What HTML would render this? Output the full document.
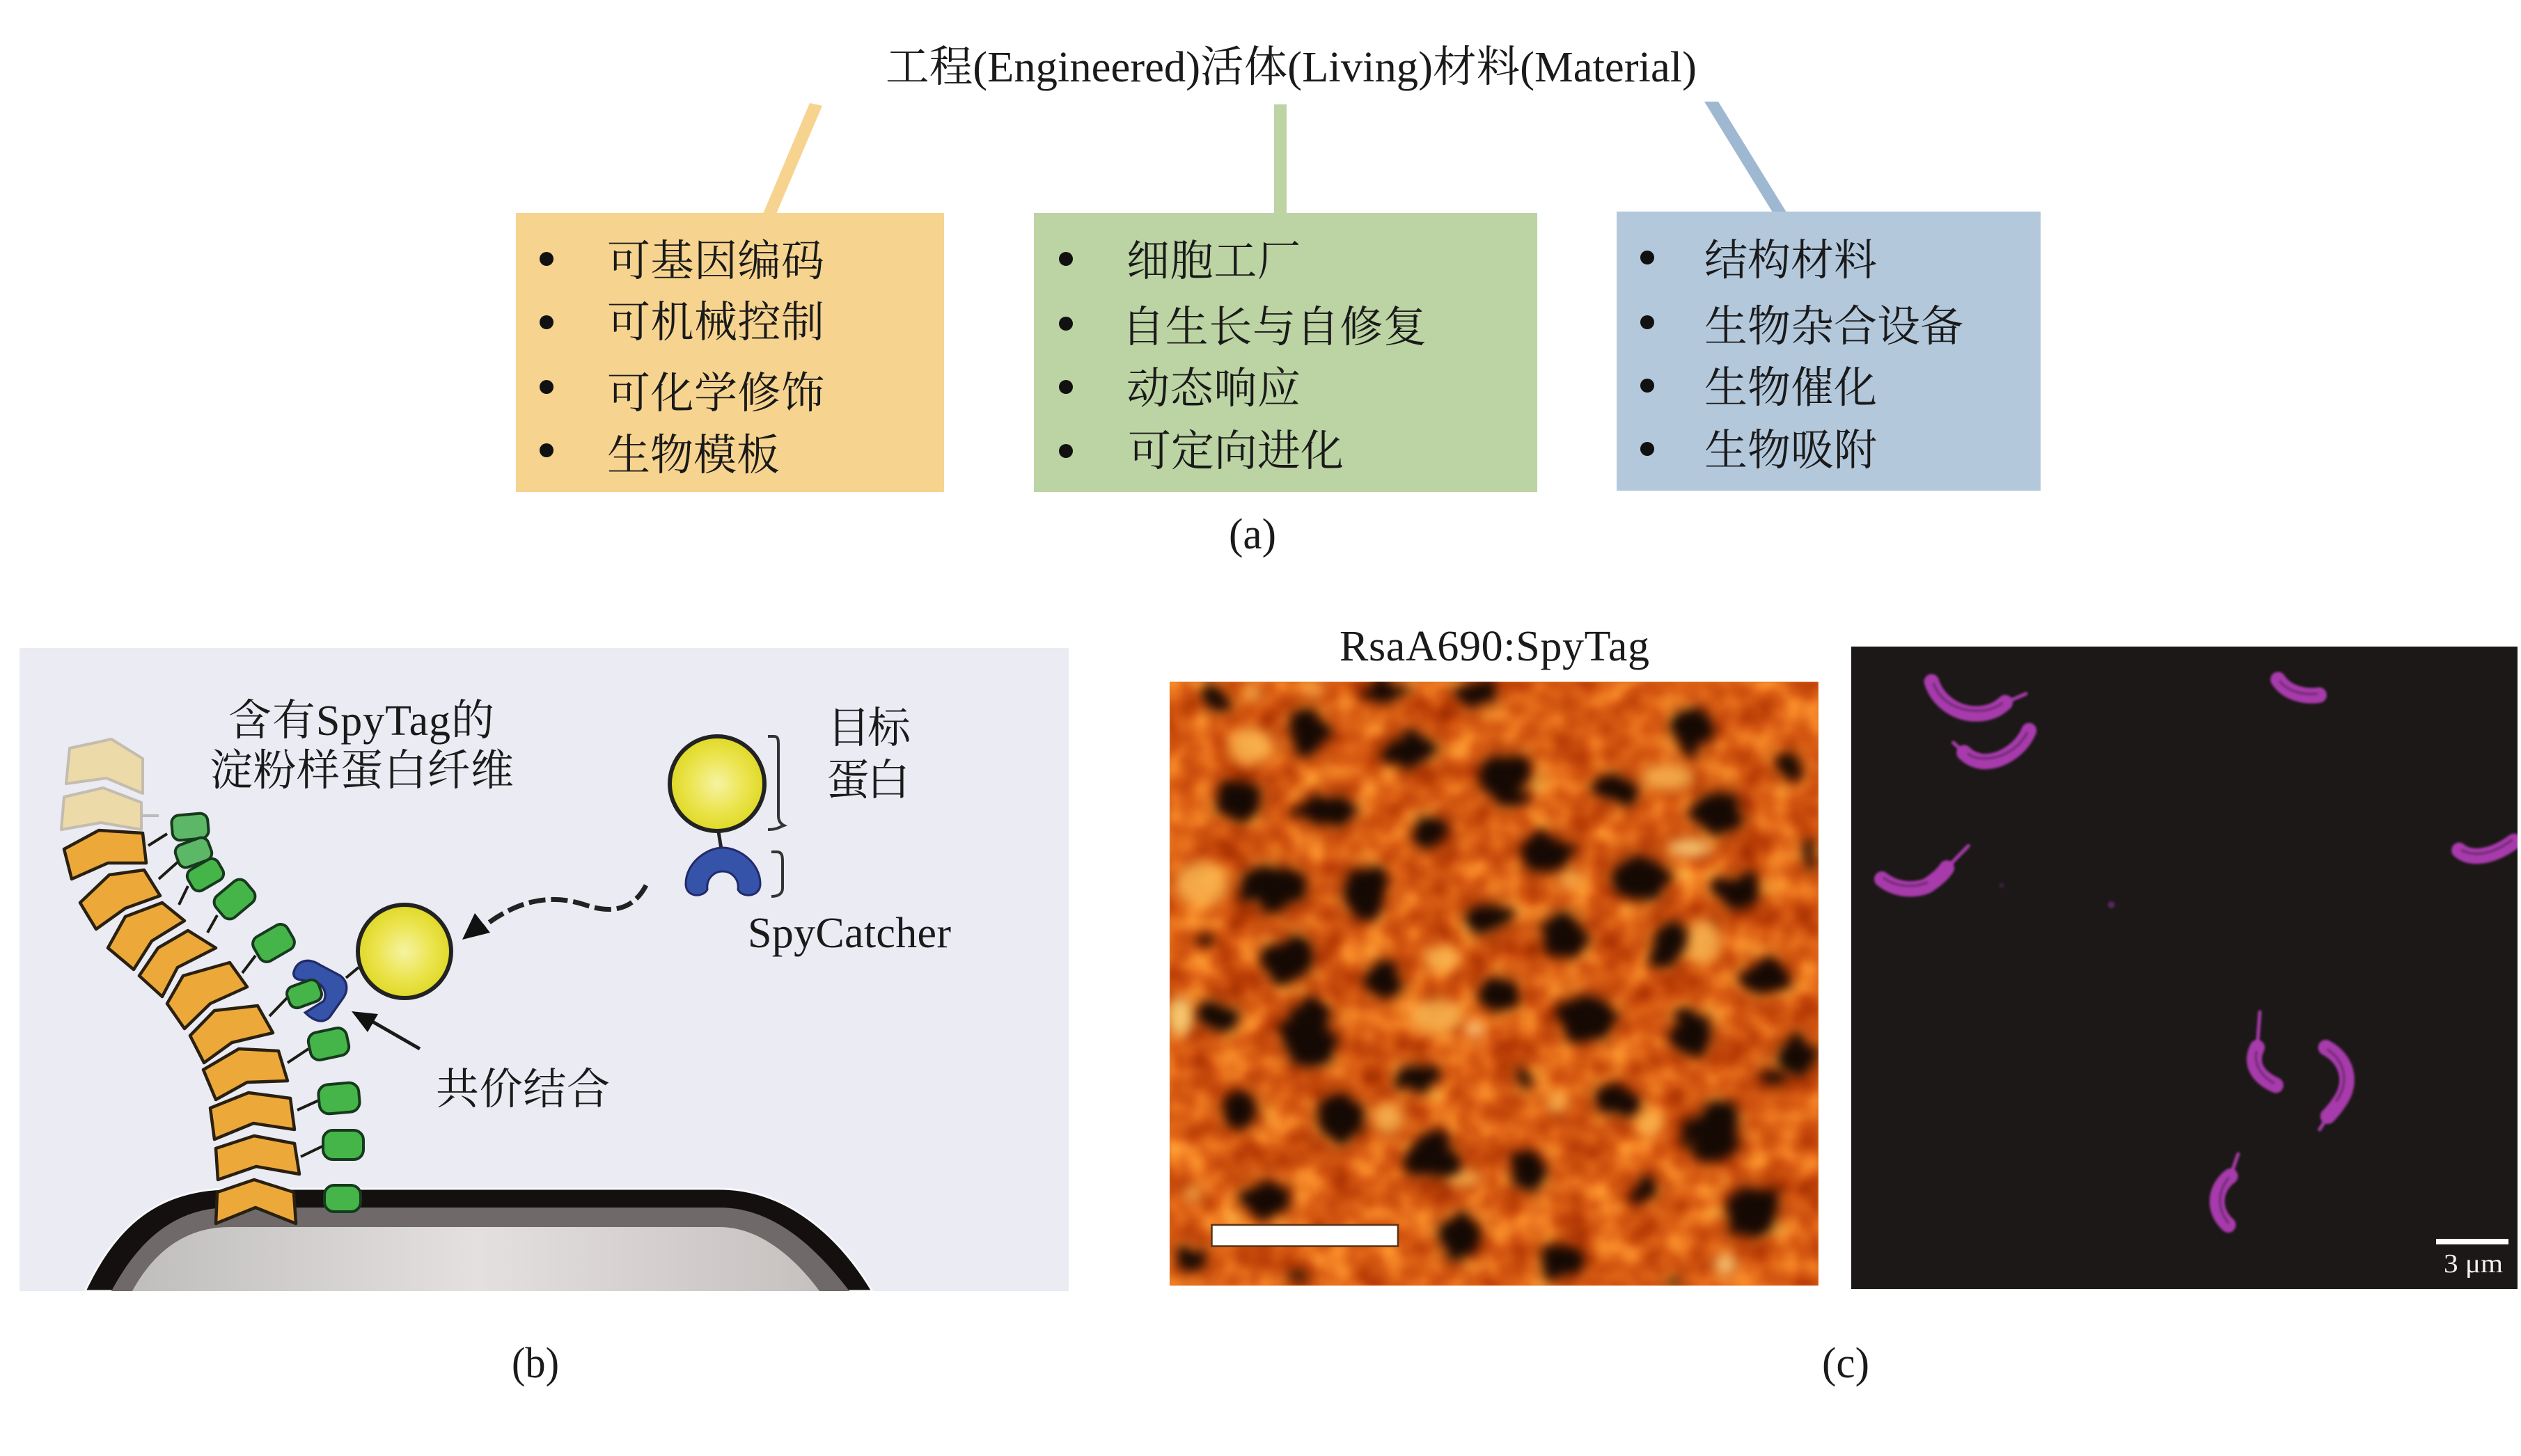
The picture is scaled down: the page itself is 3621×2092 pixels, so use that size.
<!DOCTYPE html>
<html><head><meta charset="utf-8"><style>
html,body{margin:0;padding:0;background:#fff}
svg{display:block}
text{font-family:"Liberation Serif","Noto Serif CJK SC",serif;fill:#1a1a1a;font-size:62px}
</style></head><body>
<svg xmlns="http://www.w3.org/2000/svg" width="3621" height="2092" viewBox="0 0 3621 2092">
<defs>
<radialGradient id="ball" cx=".5" cy=".5" r=".55"><stop offset="0" stop-color="#f6f3a2"/><stop offset=".55" stop-color="#ebe44d"/><stop offset="1" stop-color="#dcd61e"/></radialGradient>
<linearGradient id="cell" x1="0" x2="1" y1="0" y2="0"><stop offset="0" stop-color="#c0bdbd"/><stop offset=".5" stop-color="#e4e0e0"/><stop offset="1" stop-color="#c6c0bf"/></linearGradient>
<filter id="tex" x="0" y="0" width="1" height="1" color-interpolation-filters="sRGB">
<feTurbulence type="fractalNoise" baseFrequency=".013" numOctaves="2" seed="11"/>
<feColorMatrix type="matrix" values="1 0 0 0 0 1 0 0 0 0 1 0 0 0 0 0 0 0 0 1"/>
<feComponentTransfer><feFuncR type="table" tableValues=".58 .74 .86 .97 1"/><feFuncG type="table" tableValues=".16 .25 .37 .54 .75"/><feFuncB type="table" tableValues="0 .03 .08 .16 .3"/></feComponentTransfer>
<feGaussianBlur stdDeviation="3"/>
</filter>
<filter id="dark" x="-10%" y="-10%" width="120%" height="120%" color-interpolation-filters="sRGB">
<feTurbulence type="fractalNoise" baseFrequency=".018" numOctaves="2" seed="3" result="n"/>
<feDisplacementMap in="SourceGraphic" in2="n" scale="60" xChannelSelector="R" yChannelSelector="G"/>
<feGaussianBlur stdDeviation="13"/>
</filter>
<filter id="halo" x="-10%" y="-10%" width="120%" height="120%" color-interpolation-filters="sRGB"><feGaussianBlur stdDeviation="30"/></filter>
<filter id="lite" x="-10%" y="-10%" width="120%" height="120%" color-interpolation-filters="sRGB"><feGaussianBlur stdDeviation="14"/></filter>
<filter id="soft" x="-20%" y="-20%" width="140%" height="140%" color-interpolation-filters="sRGB"><feGaussianBlur stdDeviation="2.4"/></filter>
<clipPath id="afm"><rect x="47" y="125" width="1463" height="1362"/></clipPath>
<clipPath id="bp"><rect x="28" y="931" width="1507" height="924"/></clipPath>
<clipPath id="fl"><rect x="2659" y="929" width="957" height="923"/></clipPath>
<g id="blobs">
<ellipse cx="355" cy="235" rx="45" ry="50"/><ellipse cx="590" cy="280" rx="62" ry="32"/><ellipse cx="810" cy="340" rx="60" ry="55"/><ellipse cx="1055" cy="365" rx="45" ry="30"/><ellipse cx="1225" cy="240" rx="40" ry="50"/><ellipse cx="1440" cy="320" rx="35" ry="25"/><ellipse cx="210" cy="390" rx="50" ry="45"/><ellipse cx="405" cy="415" rx="65" ry="30"/><ellipse cx="640" cy="465" rx="40" ry="35"/><ellipse cx="900" cy="510" rx="60" ry="40"/><ellipse cx="1110" cy="565" rx="60" ry="50"/><ellipse cx="1285" cy="420" rx="55" ry="50"/><ellipse cx="280" cy="590" rx="80" ry="45"/><ellipse cx="485" cy="600" rx="45" ry="60"/><ellipse cx="765" cy="660" rx="50" ry="35"/><ellipse cx="1330" cy="600" rx="50" ry="35"/><ellipse cx="935" cy="695" rx="55" ry="45"/><ellipse cx="1170" cy="720" rx="35" ry="45"/><ellipse cx="320" cy="750" rx="55" ry="50"/><ellipse cx="530" cy="800" rx="40" ry="35"/><ellipse cx="790" cy="825" rx="45" ry="30"/><ellipse cx="985" cy="880" rx="70" ry="45"/><ellipse cx="1385" cy="790" rx="50" ry="35"/><ellipse cx="155" cy="875" rx="45" ry="30"/><ellipse cx="360" cy="920" rx="55" ry="70"/><ellipse cx="1225" cy="915" rx="50" ry="40"/><ellipse cx="600" cy="1020" rx="45" ry="30"/><ellipse cx="845" cy="1020" rx="20" ry="30"/><ellipse cx="1460" cy="970" rx="40" ry="40"/><ellipse cx="210" cy="1090" rx="40" ry="40"/><ellipse cx="430" cy="1110" rx="50" ry="55"/><ellipse cx="1050" cy="1070" rx="50" ry="35"/><ellipse cx="1275" cy="1140" rx="60" ry="60"/><ellipse cx="640" cy="1200" rx="55" ry="50"/><ellipse cx="855" cy="1235" rx="40" ry="35"/><ellipse cx="1120" cy="1275" rx="35" ry="20"/><ellipse cx="265" cy="1290" rx="50" ry="40"/><ellipse cx="1360" cy="1320" rx="60" ry="55"/><ellipse cx="700" cy="1380" rx="40" ry="55"/><ellipse cx="935" cy="1430" rx="50" ry="35"/><ellipse cx="100" cy="1425" rx="25" ry="30"/><ellipse cx="150" cy="165" rx="30" ry="25"/><ellipse cx="530" cy="145" rx="50" ry="20"/><ellipse cx="740" cy="155" rx="45" ry="30"/><ellipse cx="340" cy="1470" rx="25" ry="12"/><ellipse cx="1180" cy="1475" rx="25" ry="10"/><ellipse cx="1400" cy="1020" rx="30" ry="20"/><ellipse cx="130" cy="700" rx="20" ry="12"/><ellipse cx="1490" cy="520" rx="15" ry="30"/>
</g>
</defs>

<!-- Panel (a) -->
<text x="1272" y="117" textLength="1165" lengthAdjust="spacingAndGlyphs">工程(Engineered)活体(Living)材料(Material)</text>
<polygon points="1163,148 1181,152 1115,307 1096,307" fill="#f6d48f"/>
<rect x="1830" y="150" width="18" height="158" fill="#bcd3a3"/>
<polygon points="2448,146 2468,146 2566,305 2546,305" fill="#9fb8d2"/>
<rect x="741" y="306" width="615" height="401" fill="#f6d48f"/>
<rect x="1485" y="306" width="723" height="401" fill="#bcd3a3"/>
<rect x="2322" y="304" width="609" height="401" fill="#b4c8dc"/>
<g fill="#111">
<circle cx="785" cy="372" r="10"/><circle cx="785" cy="463" r="10"/><circle cx="785" cy="556" r="10"/><circle cx="785" cy="647" r="10"/>
<circle cx="1531" cy="372" r="10"/><circle cx="1531" cy="465" r="10"/><circle cx="1531" cy="556" r="10"/><circle cx="1531" cy="648" r="10"/>
<circle cx="2366" cy="370" r="10"/><circle cx="2366" cy="463" r="10"/><circle cx="2366" cy="554" r="10"/><circle cx="2366" cy="645" r="10"/>
</g>
<text x="872" y="396" textLength="312">可基因编码</text>
<text x="872" y="484" textLength="312">可机械控制</text>
<text x="872" y="586" textLength="312">可化学修饰</text>
<text x="872" y="675" textLength="248">生物模板</text>
<text x="1618" y="396" textLength="250">细胞工厂</text>
<text x="1611" y="491" textLength="438">自生长与自修复</text>
<text x="1618" y="579" textLength="250">动态响应</text>
<text x="1620" y="669" textLength="310">可定向进化</text>
<text x="2448" y="395" textLength="248">结构材料</text>
<text x="2448" y="490" textLength="372">生物杂合设备</text>
<text x="2448" y="578" textLength="248">生物催化</text>
<text x="2448" y="668" textLength="248">生物吸附</text>
<text x="1765" y="788" textLength="68" lengthAdjust="spacingAndGlyphs">(a)</text>

<!-- Panel (b) -->
<rect x="28" y="931" width="1507" height="924" fill="#eaebf3"/>
<g clip-path="url(#bp)">
<path d="M122,1855 C160,1775 215,1708 330,1708 L1033,1708 C1130,1708 1205,1775 1253,1855 Z" fill="#14100f" stroke="#f8f8fa" stroke-width="3"/>
<path d="M160,1855 C195,1790 245,1735 330,1735 L1033,1735 C1110,1735 1170,1790 1220,1855 Z" fill="#6f6a69"/>
<path d="M190,1855 C220,1800 265,1763 330,1763 L1033,1763 C1090,1763 1140,1805 1177,1855 Z" fill="url(#cell)"/>
</g>
<g stroke="#1c1c14" stroke-width="4" fill="none">
<path d="M205,1172 H228" stroke="#bbb"/>
<path d="M213,1215 L240,1198"/><path d="M228,1263 L257,1237"/><path d="M257,1300 L270,1273"/><path d="M298,1340 L312,1315"/><path d="M348,1398 L367,1373"/><path d="M387,1460 L413,1433"/><path d="M413,1527 L443,1507"/><path d="M427,1595 L460,1580"/><path d="M432,1662 L463,1647"/><path d="M497,1405 L515,1390"/>
</g>
<g fill="#ecdaa9" stroke="#c4bcae" stroke-width="4" stroke-linejoin="round">
<polygon points="100,1075 160,1062 205,1090 205,1140 153,1118 95,1126"/>
<polygon points="92,1145 148,1132 203,1153 203,1192 145,1182 88,1192"/>
</g>
<g fill="#eca93a" stroke="#2a2010" stroke-width="4.5" stroke-linejoin="round">
<polygon points="92,1220 142,1193 205,1197 210,1240 155,1240 103,1263"/>
<polygon points="115,1297 157,1257 207,1250 230,1287 180,1305 138,1335"/>
<polygon points="155,1362 180,1317 233,1297 265,1323 218,1352 192,1393"/>
<polygon points="200,1402 227,1362 270,1337 310,1362 255,1390 233,1432"/>
<polygon points="240,1442 263,1402 330,1383 355,1418 302,1442 265,1478"/>
<polygon points="273,1488 308,1452 370,1445 392,1484 333,1498 293,1527"/>
<polygon points="292,1537 343,1507 400,1510 413,1553 355,1555 310,1580"/>
<polygon points="302,1592 357,1570 417,1578 423,1623 364,1614 308,1637"/>
<polygon points="310,1650 365,1632 423,1643 430,1687 368,1676 313,1695"/>
<polygon points="312,1713 365,1695 422,1713 425,1758 367,1735 310,1758"/>
</g>
<g fill="#45b549" stroke="#17391e" stroke-width="4">
<rect x="-26" y="-18" width="52" height="36" rx="11" transform="translate(273,1188) rotate(-5)" fill="#5cb866"/>
<rect x="-25" y="-17" width="50" height="34" rx="11" transform="translate(278,1225) rotate(-20)" fill="#5cb866"/>
<rect x="-25" y="-17" width="50" height="34" rx="11" transform="translate(295,1257) rotate(-30)"/>
<rect x="-28" y="-20" width="56" height="40" rx="12" transform="translate(337,1292) rotate(-40)"/>
<rect x="-28" y="-20" width="56" height="40" rx="12" transform="translate(393,1355) rotate(-30)"/>
<rect x="-28" y="-20" width="56" height="40" rx="13" transform="translate(472,1500) rotate(-12)"/>
<rect x="-29" y="-21" width="58" height="42" rx="14" transform="translate(487,1578) rotate(-5)"/>
<rect x="-29" y="-21" width="58" height="42" rx="14" transform="translate(493,1645)"/>
<rect x="-26" y="-19" width="52" height="38" rx="14" transform="translate(492,1722)"/>
</g>
<g transform="translate(60,1040) scale(.3333)">
<path d="M1085,1075 C1095,1020 1150,1005 1200,1040 L1285,1085 C1320,1110 1320,1150 1300,1180 L1240,1265 C1210,1295 1170,1280 1135,1245 L1215,1195 C1228,1170 1222,1135 1190,1118 L1120,1105 C1100,1103 1085,1095 1085,1075 Z" fill="#3553a8" stroke="#232a6a" stroke-width="10"/>
</g>
<rect x="-24" y="-16" width="48" height="32" rx="11" transform="translate(437,1428) rotate(-20)" fill="#45b549" stroke="#17391e" stroke-width="4"/>
<circle cx="581" cy="1367" r="67" fill="url(#ball)" stroke="#222" stroke-width="6"/>
<circle cx="1030" cy="1126" r="68" fill="url(#ball)" stroke="#222" stroke-width="6"/>
<path d="M1032,1195 L1036,1220" stroke="#222" stroke-width="5"/>
<path d="M985,1270 C985,1240 1015,1218 1038,1218 C1062,1218 1092,1240 1092,1270 C1092,1290 1065,1290 1060,1278 C1062,1262 1050,1252 1038,1252 C1026,1252 1014,1262 1016,1278 C1010,1290 985,1290 985,1270 Z" fill="#3553a8" stroke="#232a6a" stroke-width="3"/>
<g fill="none" stroke="#333" stroke-width="4">
<path d="M1103,1058 H1112 C1118,1058 1118,1064 1118,1070 V1172 C1118,1180 1122,1184 1126,1186 C1120,1188 1116,1192 1103,1192"/>
<path d="M1108,1224 H1116 C1124,1224 1124,1232 1124,1238 V1276 C1124,1284 1118,1288 1108,1288"/>
</g>
<path d="M928,1272 C908,1310 875,1312 840,1300 C795,1285 745,1290 690,1335" fill="none" stroke="#222" stroke-width="7" stroke-dasharray="24 8"/>
<polygon points="664,1350 682,1312 704,1340" fill="#111"/>
<path d="M603,1507 L530,1465" stroke="#1a1a1a" stroke-width="5"/>
<polygon points="505,1453 543,1457 528,1483" fill="#111"/>
<text x="328" y="1056" textLength="382">含有SpyTag的</text>
<text x="301" y="1128" textLength="437">淀粉样蛋白纤维</text>
<text x="1188" y="1067" textLength="120">目标</text>
<text x="1187" y="1142" textLength="120">蛋白</text>
<text x="1074" y="1361" textLength="292">SpyCatcher</text>
<text x="626" y="1586" textLength="250">共价结合</text>
<text x="735" y="1979" textLength="68" lengthAdjust="spacingAndGlyphs">(b)</text>

<!-- Panel (c) left AFM -->
<text x="1924" y="949" textLength="445">RsaA690:SpyTag</text>
<g transform="translate(1650,900) scale(.637)">
<g clip-path="url(#afm)">
<rect x="47" y="125" width="1463" height="1362" fill="#de6c1e"/>
<rect x="47" y="125" width="1463" height="1362" filter="url(#tex)"/>
<use href="#blobs" fill="#6e2605" opacity=".72" filter="url(#halo)"/>
<g filter="url(#lite)" fill="#f8b550" opacity=".85">
<ellipse cx="120" cy="580" rx="60" ry="50"/><ellipse cx="70" cy="880" rx="30" ry="45" fill="#fbdc80"/><ellipse cx="235" cy="150" rx="20" ry="20"/><ellipse cx="370" cy="140" rx="25" ry="15"/><ellipse cx="1220" cy="500" rx="50" ry="20" fill="#fbd680"/><ellipse cx="1170" cy="340" rx="60" ry="30"/><ellipse cx="735" cy="910" rx="18" ry="14" fill="#ffefb0"/><ellipse cx="1300" cy="1440" rx="25" ry="25" fill="#fbd680"/><ellipse cx="540" cy="1110" rx="35" ry="35"/><ellipse cx="660" cy="750" rx="40" ry="30"/><ellipse cx="1250" cy="710" rx="40" ry="50"/><ellipse cx="950" cy="570" rx="30" ry="20"/><ellipse cx="710" cy="1245" rx="40" ry="20"/><ellipse cx="1130" cy="1120" rx="30" ry="30"/><ellipse cx="100" cy="1280" rx="20" ry="20"/><ellipse cx="920" cy="1075" rx="25" ry="25"/><ellipse cx="650" cy="880" rx="60" ry="40"/><ellipse cx="230" cy="270" rx="50" ry="40"/>
</g>
<use href="#blobs" fill="#150904" filter="url(#dark)"/>
</g>
<rect x="142" y="1350" width="420" height="48" fill="#fff" stroke="#5a3418" stroke-width="4"/>
</g>

<!-- Panel (c) right fluorescence -->
<rect x="2659" y="929" width="957" height="923" fill="#1c1817"/>
<g clip-path="url(#fl)">
<g transform="translate(2650,900) scale(.622,.637)" fill="none" stroke-linecap="round">
<g stroke="#a83bac" stroke-width="35" filter="url(#soft)">
<path d="M200,125 C215,170 260,200 310,197 C340,195 355,185 370,172"/>
<path d="M425,235 C410,270 370,305 320,305 C300,303 285,295 275,285"/>
<path d="M1000,120 C1020,150 1060,160 1095,155"/>
<path d="M85,570 C110,590 150,600 190,585 C210,572 225,560 235,545"/>
<path d="M1418,505 C1440,525 1490,525 1545,485"/>
<path d="M952,950 C935,985 950,1015 995,1035"/>
<path d="M1110,950 C1160,975 1175,1030 1140,1075 C1130,1090 1122,1098 1115,1105"/>
<path d="M890,1240 C850,1270 850,1320 885,1350"/>
</g>
<g stroke="#a83bac" stroke-width="8" filter="url(#soft)">
<path d="M370,172 L418,152"/><path d="M275,285 L250,262"/><path d="M235,545 L285,495"/><path d="M952,950 L958,870"/><path d="M1115,1105 L1096,1135"/><path d="M890,1240 L908,1190"/>
</g>
<g stroke="#6f2a74" stroke-width="5" filter="url(#soft)">
<path d="M205,130 C220,170 262,192 310,190 C335,190 350,182 362,174"/>
<path d="M420,240 C405,270 370,298 320,298 C305,298 295,295 285,288"/>
<path d="M1005,125 C1025,148 1060,155 1090,152"/>
<path d="M90,568 C115,585 150,592 190,578"/>
<path d="M1425,505 C1450,518 1490,518 1540,482"/>
<path d="M950,960 C945,985 958,1012 990,1030"/>
<path d="M1115,955 C1155,980 1165,1030 1135,1070"/>
<path d="M885,1245 C860,1275 860,1315 885,1345"/>
</g>
<circle cx="615" cy="628" r="8" fill="#5a2560" filter="url(#soft)"/>
<circle cx="362" cy="584" r="6" fill="#3a1f3c" filter="url(#soft)"/>
</g>
</g>
<rect x="3499" y="1780" width="104" height="8" fill="#fff"/>
<text x="3510" y="1828" textLength="85" style="fill:#f2f2f2;font-size:38px" lengthAdjust="spacingAndGlyphs">3 μm</text>
<text x="2617" y="1979" textLength="68" lengthAdjust="spacingAndGlyphs">(c)</text>
</svg>
</body></html>
